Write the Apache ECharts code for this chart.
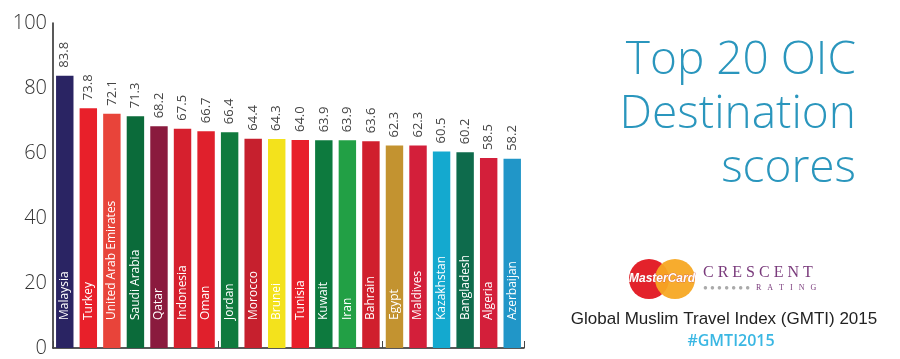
<!DOCTYPE html>
<html><head><meta charset="utf-8">
<script src="https://cdn.jsdelivr.net/npm/echarts@6/dist/echarts.min.js"></script>
<style>html,body{margin:0;padding:0;background:#fff}#c{width:900px;height:359px}</style>
</head><body><div id="c"></div>
<script>
const countries = ["Malaysia","Turkey","United Arab Emirates","Saudi Arabia","Qatar","Indonesia","Oman","Jordan","Morocco","Brunei","Tunisia","Kuwait","Iran","Bahrain","Egypt","Maldives","Kazakhstan","Bangladesh","Algeria","Azerbaijan"];
const scores = [83.8,73.8,72.1,71.3,68.2,67.5,66.7,66.4,64.4,64.3,64.0,63.9,63.9,63.6,62.3,62.3,60.5,60.2,58.5,58.2];
const barColors = ["#2a2463","#e8202a","#e8443a","#0b6b3a","#8a1a3e","#d6202e","#e0202c","#0f7a3d","#c6202e","#f3e21c","#e81f2a","#0d7a3e","#22a045","#d01f2d","#c39330","#d31f3a","#14a9cf","#0e6b4c","#d31f3a","#2196c8"];
const yTicks = [0,20,40,60,80,100];
const titleLines = ["Top 20 OIC","Destination","scores"];

const chart = echarts.init(document.getElementById('c'), null, {renderer:'canvas'});
const font = "'Open Sans', sans-serif";
chart.setOption({
  animation:false,
  grid:{left:53,right:376,top:23,bottom:11,containLabel:false},
  xAxis:{type:'category',data:countries,
    axisLine:{lineStyle:{color:'#222',width:1.5}},
    axisTick:{show:true,inside:true,length:7,lineStyle:{color:'#444'}},
    axisLabel:{show:false}},
  yAxis:{type:'value',min:yTicks[0],max:yTicks[yTicks.length-1],interval:20,
    axisLine:{show:true,lineStyle:{color:'#222',width:1.5}},
    axisTick:{show:false},splitLine:{show:false},
    axisLabel:{color:'#333',fontSize:20,fontFamily:font,fontWeight:300,margin:6}},
  series:[
    {type:'bar',data:scores.map((v,i)=>({value:v,itemStyle:{color:barColors[i]}})),
     barCategoryGap:'26%',
     label:{show:true,position:'top',rotate:90,align:'left',verticalAlign:'middle',distance:8,
       color:'#444',fontSize:13,fontFamily:font,formatter:p=>p.value.toFixed(1)}},
    {type:'bar',data:scores,barGap:'-100%',barCategoryGap:'26%',silent:true,
     itemStyle:{color:'rgba(0,0,0,0)'},
     label:{show:true,position:'insideBottom',rotate:90,align:'left',verticalAlign:'middle',distance:28,
       color:'#fff',fontSize:12,fontFamily:font,formatter:p=>p.name}}
  ],
  graphic:[
    {type:'text',x:856,y:61,style:{text:titleLines[0],align:'right',verticalAlign:'middle',
      font:"300 46px 'Open Sans', sans-serif",fill:'#2a96bd'}},
    {type:'text',x:856,y:115,style:{text:titleLines[1],align:'right',verticalAlign:'middle',
      font:"300 46px 'Open Sans', sans-serif",fill:'#2a96bd'}},
    {type:'text',x:856,y:169,style:{text:titleLines[2],align:'right',verticalAlign:'middle',
      font:"300 46px 'Open Sans', sans-serif",fill:'#2a96bd'}},
    {type:'circle',shape:{cx:649,cy:279,r:20},style:{fill:'#e3222b'}},
    {type:'circle',shape:{cx:675,cy:279,r:20},style:{fill:'#f7a823',opacity:0.95}},
    {type:'text',x:662,y:279,style:{text:'MasterCard',align:'center',verticalAlign:'middle',
      font:"italic bold 12px 'Liberation Sans', Arial, sans-serif",fill:'#fff',stroke:'#c44',lineWidth:0.5}},
    {type:'text',x:703,y:273,style:{text:'C R E S C E N T',verticalAlign:'middle',
      font:"16px 'Liberation Serif', serif",fill:'#7a3b7c'}},
    {type:'text',x:703,y:288,style:{text:'● ● ● ● ● ● ●',verticalAlign:'middle',
      font:"8px sans-serif",fill:'#aaa'}},
    {type:'text',x:756,y:288,style:{text:'R   A   T   I   N   G',verticalAlign:'middle',
      font:"8px 'Liberation Serif', serif",fill:'#7a3b7c'}},
    {type:'text',x:724,y:319,style:{text:'Global Muslim Travel Index (GMTI) 2015',align:'center',verticalAlign:'middle',
      font:"17px 'Liberation Sans', Arial, sans-serif",fill:'#222'}},
    {type:'text',x:731,y:341,style:{text:'#GMTI2015',align:'center',verticalAlign:'middle',
      font:"600 16px 'Open Sans', sans-serif",fill:'#3ab7e3'}}
  ]
});
</script></body></html>
